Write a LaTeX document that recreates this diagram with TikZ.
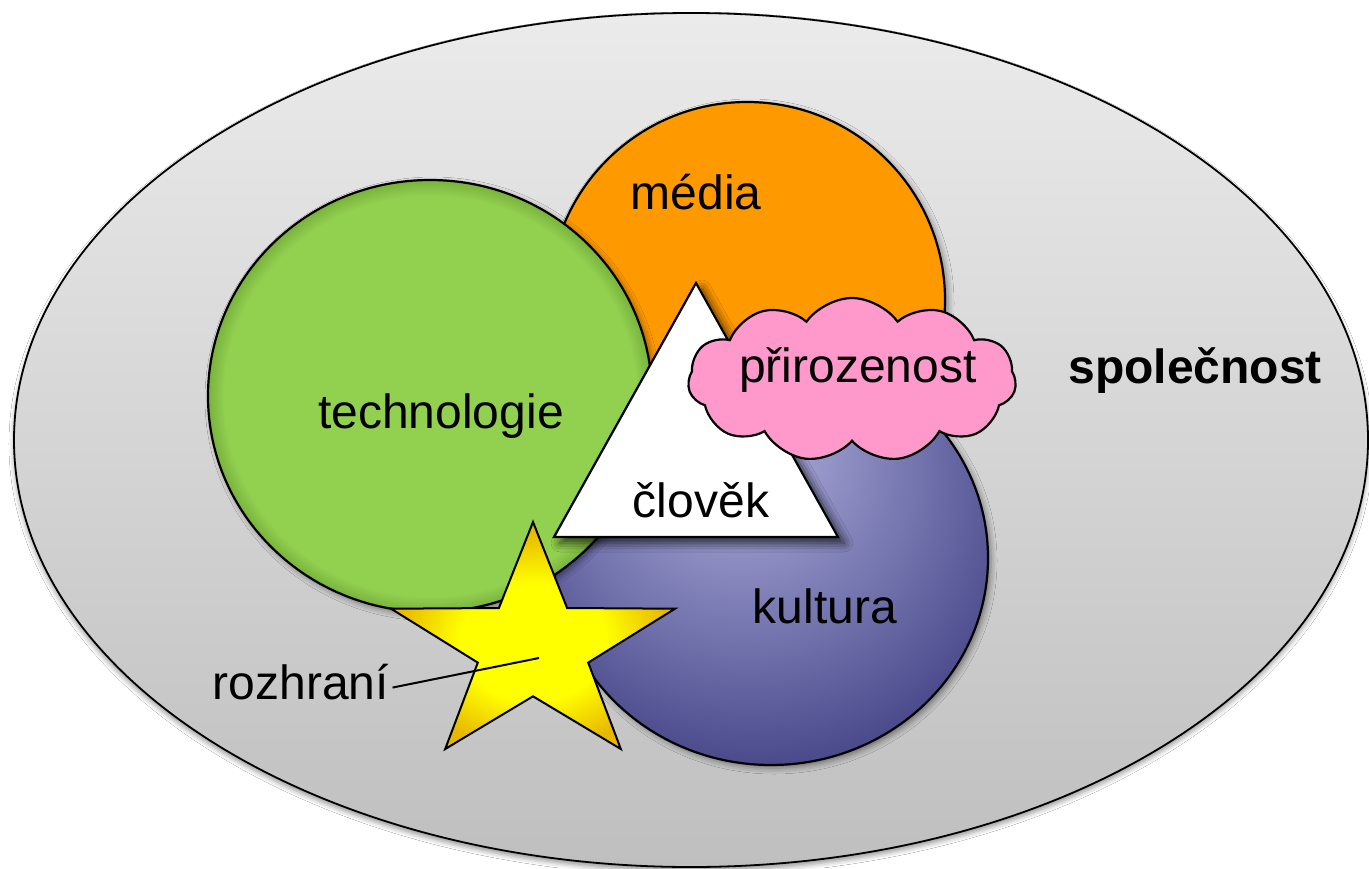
\documentclass[tikz,border=0pt]{standalone}
\usepackage{fontspec}
\setmainfont{Liberation Sans}
\usetikzlibrary{shapes.geometric,shapes.symbols,shadows.blur}

\definecolor{bgtop}{HTML}{EBEBEB}
\definecolor{bgbot}{HTML}{BFBFBF}
\definecolor{orangefill}{HTML}{FF9900}
\definecolor{greenfill}{HTML}{92D050}
\definecolor{greenrim}{HTML}{78B23C}
\definecolor{pinkfill}{HTML}{FF99CC}
\definecolor{bluelight}{HTML}{A4A4D4}
\definecolor{bluemid}{HTML}{6C6CA8}
\definecolor{bluedark}{HTML}{3A3A7E}
\definecolor{staryellow}{HTML}{FFFF00}
\definecolor{stargold}{HTML}{E8B800}

% shadings for the circles and the star
\pgfdeclareradialshading{kulturashade}{\pgfpoint{-5bp}{17bp}}{color(0bp)=(bluelight); color(6bp)=(bluelight); color(22bp)=(bluemid); color(36bp)=(bluedark); color(50bp)=(bluedark)}
\pgfdeclareradialshading{techshade}{\pgfpointorigin}{color(0bp)=(greenfill); color(23.2bp)=(greenfill); color(25bp)=(greenrim); color(50bp)=(greenrim)}
\pgfdeclareradialshading{starshade}{\pgfpoint{0bp}{-2bp}}{color(0bp)=(staryellow); color(13bp)=(staryellow); color(24bp)=(stargold); color(50bp)=(stargold)}

\begin{document}
\begin{tikzpicture}[x=1bp,y=-1bp,
  every node/.style={font=\fontsize{48bp}{56bp}\selectfont, text=black},
  outline/.style={draw=black, line width=2.2bp},
  blob/.style={inner sep=0pt, outline},
  softshadow/.style={blur shadow={shadow xshift=3bp, shadow yshift=-3bp, shadow blur radius=6bp, shadow opacity=45}},
  tagtext/.style={anchor=base}]

\fill[white] (0,0) rectangle (1369,868);
\useasboundingbox (0,0) rectangle (1369,868);

% society: the large grey ellipse
\node[shape=ellipse, blob, line width=1.8bp, top color=bgtop, bottom color=bgbot,
  minimum width=1354bp, minimum height=854bp,
  blur shadow={shadow xshift=0bp, shadow yshift=-4bp, shadow blur radius=5bp, shadow opacity=40}]
  (spolecnost) at (691,440) {};

% media, culture, technology
\node[shape=circle, blob, fill=orangefill, minimum size=396bp, softshadow]
  (media) at (747,300) {};
\node[shape=ellipse, blob, shading=kulturashade, minimum width=434bp, minimum height=414bp, softshadow]
  (kultura) at (771,558) {};
\node[shape=ellipse, blob, shading=techshade, minimum width=444bp, minimum height=432bp, softshadow]
  (technologie) at (430,396) {};

% interface: the star
\path[outline, line width=2bp, line join=miter, shading=starshade]
  (533,522) -- (567.1,608) -- (675,608.7) -- (588.2,662.6) -- (620.8,749)
  -- (533,696.3) -- (445.2,749) -- (477.8,662.6) -- (391,608.7) -- (498.9,608) -- cycle;

% man: the white triangle
\coordinate (apex) at (696,283);
\coordinate (baseL) at (554,537);
\coordinate (baseR) at (838,537);
\path[outline, fill=white, line join=miter,
  blur shadow={shadow xshift=6bp, shadow yshift=-6bp, shadow blur radius=9bp, shadow opacity=75}]
  (apex) -- (baseL) -- (baseR) -- cycle;

% nature: the pink cloud
\node[shape=cloud, cloud puffs=11, cloud puff arc=110, aspect=2, blob, fill=pinkfill,
  minimum width=328bp, minimum height=164bp] (priroda) at (852,380) {};

% labels
\node[tagtext] (tMedia) at (696,209) {média};
\node[tagtext] (tTech) at (441,428) {technologie};
\node[tagtext] (tClovek) at (701,517) {člověk};
\node[tagtext] (tKultura) at (825,623) {kultura};
\node[tagtext] (tPriroda) at (858,382) {přirozenost};
\node[tagtext, font=\fontsize{48bp}{56bp}\selectfont\bfseries] (tSpol) at (1195,383) {společnost};
\node[tagtext] (tRozhrani) at (301,699) {rozhraní};

\coordinate (pointerTip) at (539,658);
\draw[line width=2bp] ([yshift=-6bp]tRozhrani.east) -- (pointerTip);
\end{tikzpicture}
\end{document}
